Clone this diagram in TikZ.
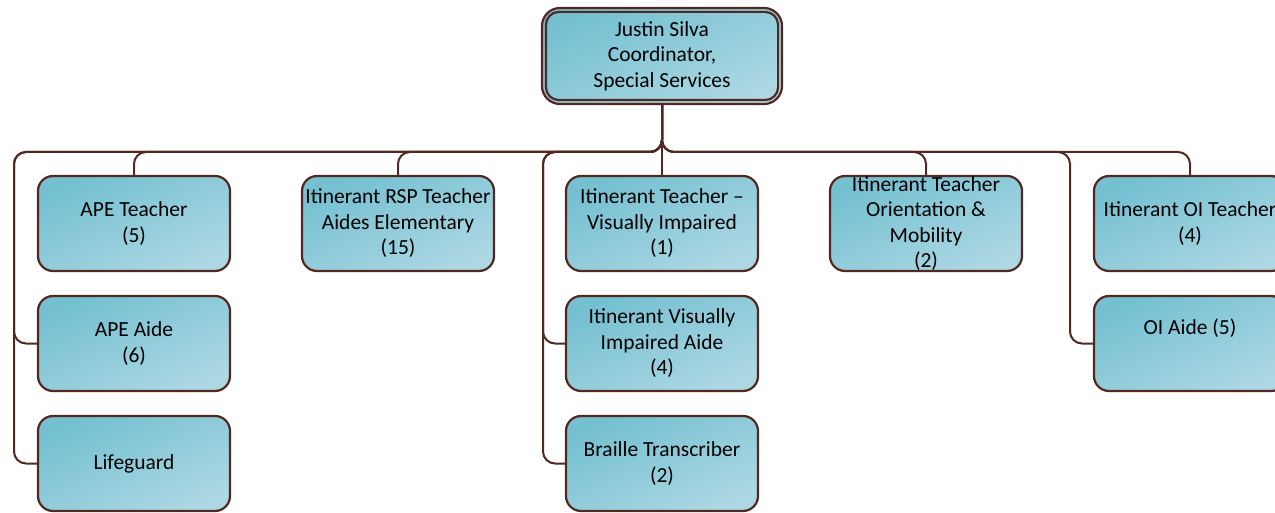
\documentclass[tikz,border=0pt]{standalone}
\usepackage{fontspec}
\setmainfont{Carlito}
\usetikzlibrary{calc}
\definecolor{boxdark}{RGB}{116,192,209}
\definecolor{boxmid}{RGB}{128,197,213}
\definecolor{boxlight}{RGB}{172,215,227}
\definecolor{edge}{RGB}{82,40,32}
\tikzset{
  unit/.style={rectangle, rounded corners=15pt, minimum width=192pt, minimum height=95pt,
    inner sep=0pt, align=center, draw=edge, line width=2.2pt,
    shading=axis, top color=boxdark, middle color=boxmid, bottom color=boxlight, shading angle=25,
    font=\fontsize{21.5}{25.5}\selectfont},
  headbox/.style={unit, minimum width=240pt, minimum height=96pt, rounded corners=18pt},
  conn/.style={draw=edge, line width=2pt, rounded corners=12pt},
}
\begin{document}
\begin{tikzpicture}[x=1pt,y=-1pt]
\useasboundingbox (0,0) rectangle (1275,513);
% bus coordinates
\coordinate (bL) at (14,152);
\coordinate (bA) at (134,152);
\coordinate (bRSP) at (398,152);
\coordinate (bM) at (543,152);
\coordinate (bV) at (662,152);
\coordinate (bOM) at (926,152);
\coordinate (bR) at (1070,152);
\coordinate (bOI) at (1190,152);
% head
\node[headbox] (top) at (662,56) {\raisebox{-2pt}{\parbox{230pt}{\centering Justin Silva\\Coordinator,\\Special Services}}};
\draw[draw=edge, line width=2.2pt, rounded corners=13pt]
  ([shift={(5,5)}]top.north west) rectangle ([shift={(-5,-5)}]top.south east);
% units
\node[unit] (ape1) at (134,223.5) {APE Teacher\\(5)};
\node[unit] (ape2) at (134,343.5) {APE Aide\\(6)};
\node[unit] (life) at (134,463.5) {Lifeguard};
\node[unit] (rsp) at (398,223.5) {Itinerant RSP Teacher\\Aides Elementary\\(15)};
\node[unit] (vi1) at (662,223.5) {Itinerant Teacher –\\Visually Impaired\\(1)};
\node[unit] (vi2) at (662,343.5) {Itinerant Visually\\Impaired Aide\\(4)};
\node[unit] (brl) at (662,463.5) {Braille Transcriber\\(2)};
\node[unit] (om) at (926,223.5) {Itinerant Teacher\\Orientation \&\\Mobility\\(2)};
\node[unit] (oi1) at (1190,223.5) {Itinerant OI Teacher\\(4)};
\node[unit] (oi2) at (1190,343.5) {OI Aide (5)\\\strut};
% connectors
\draw[conn] (top.south) |- (bA) -- (ape1.north);
\draw[conn] (top.south) |- (bL) |- (ape2.west);
\draw[conn] (top.south) |- (bL) |- (life.west);
\draw[conn] (top.south) |- (bRSP) -- (rsp.north);
\draw[conn] (top.south) -- (bV) -- (vi1.north);
\draw[conn] (top.south) |- (bM) |- (vi2.west);
\draw[conn] (top.south) |- (bM) |- (brl.west);
\draw[conn] (top.south) |- (bOM) -- (om.north);
\draw[conn] (top.south) |- (bR) |- (oi2.west);
\draw[conn] (top.south) |- (bOI) -- (oi1.north);
\end{tikzpicture}
\end{document}
